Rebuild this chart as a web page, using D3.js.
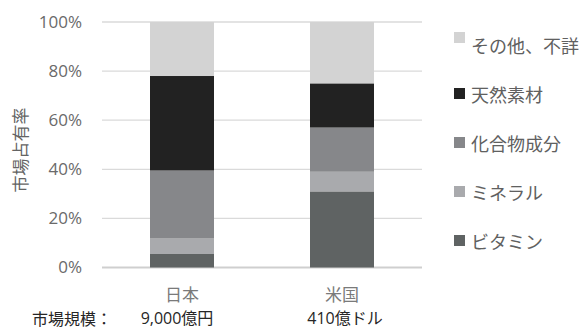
<!DOCTYPE html>
<html>
<head>
<meta charset="utf-8">
<script src="https://cdn.jsdelivr.net/npm/d3@7"></script>
<style>
  html, body { margin: 0; padding: 0; background: #fff; }
  svg { display: block; font-family: "Noto Sans CJK JP", "Noto Sans", sans-serif; }
</style>
</head>
<body>
<svg id="chart" width="587" height="329"></svg>
<script>
// Market share by ingredient type (%), stacked bottom to top
const countries = ["日本", "米国"];
const marketSizes = ["9,000億円", "410億ドル"];
const seriesNames = ["ビタミン", "ミネラル", "化合物成分", "天然素材", "その他、不詳"];
const vitamin  = [5.5, 31];
const mineral  = [6.5, 8];
const compound = [27.5, 18];
const natural  = [38.5, 18];
const other    = [22, 25];
const yTicks = [0, 20, 40, 60, 80, 100];
const colors = ["#5f6363", "#a9aaad", "#86878a", "#222222", "#d3d3d3"];

const seriesValues = [vitamin, mineral, compound, natural, other];
const rows = countries.map((c, i) => {
  const r = { country: c };
  seriesNames.forEach((s, k) => { r[s] = seriesValues[k][i]; });
  return r;
});

const svg = d3.select("#chart");
const plotLeft = 102, plotRight = 422, plotTop = 22, plotBottom = 267.5;

const x = d3.scaleBand().domain(countries).range([plotLeft, plotRight])
  .paddingInner(0.6).paddingOuter(0.3);
const y = d3.scaleLinear().domain([0, 100]).range([plotBottom, plotTop]);

// gridlines
svg.append("g").selectAll("line").data(yTicks).join("line")
  .attr("x1", plotLeft).attr("x2", plotRight)
  .attr("y1", d => y(d)).attr("y2", d => y(d))
  .attr("stroke", d => d === 0 ? "#cfcfcf" : "#dadada")
  .attr("stroke-width", d => d === 0 ? 2 : 1.3);

// y axis labels
const yAxis = d3.axisLeft(y).tickValues(yTicks).tickFormat(d => d + "%").tickSize(0).tickPadding(0);
svg.append("g").attr("transform", `translate(82,0)`).call(yAxis)
  .call(g => g.select(".domain").remove())
  .call(g => g.selectAll("text")
    .attr("fill", "#6a6a6a").attr("font-size", 17)
    .style("font-family", "'Open Sans', 'Noto Sans', sans-serif"));

// stacked bars
const stack = d3.stack().keys(seriesNames)(rows);
svg.append("g").selectAll("g").data(stack).join("g")
  .attr("fill", (d, i) => colors[i])
  .selectAll("rect").data(d => d).join("rect")
  .attr("x", d => x(d.data.country))
  .attr("width", x.bandwidth())
  .attr("y", d => y(d[1]))
  .attr("height", d => y(d[0]) - y(d[1]));

// y axis title
svg.append("text")
  .attr("transform", "translate(19,150) rotate(-90)")
  .attr("text-anchor", "middle").attr("dominant-baseline", "central")
  .attr("font-size", 17).attr("fill", "#646464")
  .text("市場占有率");

// category labels
svg.append("g").selectAll("text").data(countries).join("text")
  .attr("x", d => x(d) + x.bandwidth() / 2).attr("y", 293)
  .attr("text-anchor", "middle").attr("dominant-baseline", "central")
  .attr("font-size", 17).attr("fill", "#7a7a7a")
  .text(d => d);

// market size row
svg.append("text").attr("x", 32).attr("y", 318)
  .attr("dominant-baseline", "central").attr("font-size", 16).attr("fill", "#262626")
  .text("市場規模：");
svg.append("g").selectAll("text").data(marketSizes).join("text")
  .attr("x", (d, i) => x(countries[i]) + x.bandwidth() / 2 - 5 + i * 8).attr("y", 318)
  .attr("text-anchor", "middle").attr("dominant-baseline", "central")
  .attr("font-size", 16).attr("fill", "#262626")
  .style("font-family", "'Open Sans', 'Noto Sans CJK JP', sans-serif")
  .text(d => d);

// legend, top entry first
const legendOrder = d3.range(seriesNames.length).reverse();
const legend = svg.append("g").selectAll("g").data(legendOrder).join("g")
  .attr("transform", (d, j) => `translate(454,${45 + j * 49})`);
legend.append("rect")
  .attr("x", 0).attr("y", (d, j) => j === 0 ? -13 : -6)
  .attr("width", 11).attr("height", 11)
  .attr("fill", d => colors[d]);
legend.append("text")
  .attr("x", 17).attr("y", 0).attr("dominant-baseline", "central")
  .attr("font-size", 18).attr("fill", "#606060")
  .text(d => seriesNames[d]);
</script>
</body>
</html>
